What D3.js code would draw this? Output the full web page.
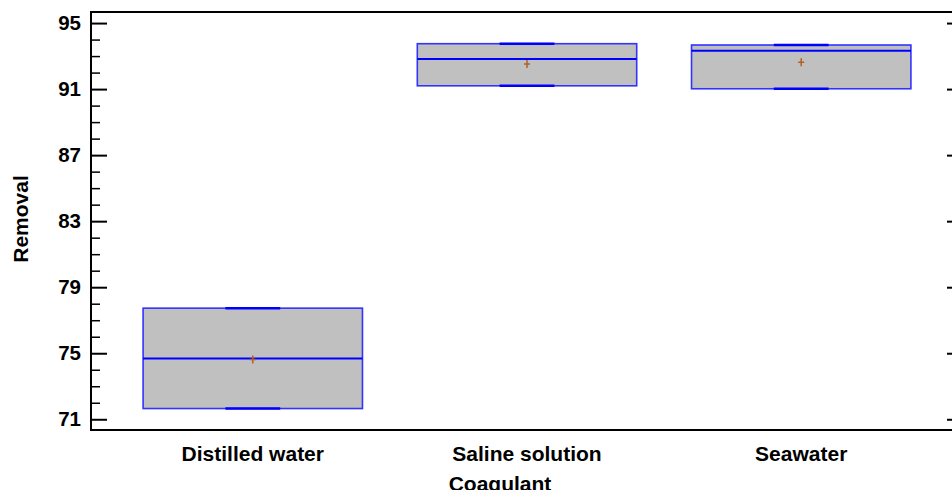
<!DOCTYPE html>
<html>
<head>
<meta charset="utf-8">
<script src="https://cdn.jsdelivr.net/npm/d3@7"></script>
<style>
  body { margin: 0; background: #fff; }
  text { font-family: "Liberation Sans", Arial, sans-serif; font-weight: bold; }
</style>
</head>
<body>
<div id="containerboxplot"></div>
<script>

// values
var categories = ["Distilled water", "Saline solution", "Seawater"];
var minvals = [71.65, 91.20, 91.02];
var q1vals = [71.65, 91.20, 91.02];
var medians = [74.68, 92.82, 93.32];
var q3vals = [77.73, 93.75, 93.67];
var maxvals = [77.73, 93.75, 93.67];
var means = [74.62, 92.52, 92.63];
var majorticks = [71, 75, 79, 83, 87, 91, 95];
var minorticks = d3.range(71, 96).filter(function(d) { return majorticks.indexOf(d) < 0; });

var width = 952, height = 490;
var margin = {top: 12, right: -11, bottom: 60, left: 91};
var plotw = width - margin.left - margin.right;
var ploth = height - margin.top - margin.bottom;

var svg = d3.select("#containerboxplot").append("svg")
    .attr("width", width)
    .attr("height", height);

var g = svg.append("g")
    .attr("transform", "translate(" + margin.left + "," + margin.top + ")");

var x = d3.scaleBand()
    .domain(categories)
    .range([0, plotw])
    .paddingInner(0.2)
    .paddingOuter(0.19);

var y = d3.scaleLinear()
    .domain([70.35, 95.67])
    .range([ploth, 0]);

var boxes = categories.map(function(c, i) {
  return {cat: c, min: minvals[i], q1: q1vals[i], med: medians[i], q3: q3vals[i], max: maxvals[i], mean: means[i]};
});

// boxes
var bx = g.selectAll(".box")
    .data(boxes).enter()
    .append("g")
    .attr("class", "box");

bx.append("rect")
    .attr("x", function(d) { return x(d.cat); })
    .attr("y", function(d) { return y(d.q3); })
    .attr("width", x.bandwidth())
    .attr("height", function(d) { return y(d.q1) - y(d.q3); })
    .attr("fill", "#c0c0c0")
    .attr("stroke", "#3333ff")
    .attr("stroke-width", 1.6);

// whiskers + caps (whiskers have zero length here)
bx.append("line")
    .attr("x1", function(d) { return x(d.cat) + x.bandwidth() / 2; })
    .attr("x2", function(d) { return x(d.cat) + x.bandwidth() / 2; })
    .attr("y1", function(d) { return y(d.max); })
    .attr("y2", function(d) { return y(d.q3); })
    .attr("stroke", "#0000ff")
    .attr("stroke-width", 1.5);
bx.append("line")
    .attr("x1", function(d) { return x(d.cat) + x.bandwidth() / 2; })
    .attr("x2", function(d) { return x(d.cat) + x.bandwidth() / 2; })
    .attr("y1", function(d) { return y(d.min); })
    .attr("y2", function(d) { return y(d.q1); })
    .attr("stroke", "#0000ff")
    .attr("stroke-width", 1.5);
["max", "min"].forEach(function(k) {
  bx.append("line")
      .attr("x1", function(d) { return x(d.cat) + x.bandwidth() * 0.375; })
      .attr("x2", function(d) { return x(d.cat) + x.bandwidth() * 0.625; })
      .attr("y1", function(d) { return y(d[k]); })
      .attr("y2", function(d) { return y(d[k]); })
      .attr("stroke", "#0000ff")
      .attr("stroke-width", 2.5);
});

// median
bx.append("line")
    .attr("x1", function(d) { return x(d.cat); })
    .attr("x2", function(d) { return x(d.cat) + x.bandwidth(); })
    .attr("y1", function(d) { return y(d.med); })
    .attr("y2", function(d) { return y(d.med); })
    .attr("stroke", "#0000ff")
    .attr("stroke-width", 2);

// mean marker
var pl = 3;
bx.append("path")
    .attr("d", function(d) {
      var cx = x(d.cat) + x.bandwidth() / 2, cy = y(d.mean);
      return "M" + (cx - pl) + "," + cy + "H" + (cx + pl) + "M" + cx + "," + (cy - pl - 1) + "V" + (cy + pl + 1);
    })
    .attr("stroke", "#b0602a")
    .attr("stroke-width", 1.5)
    .attr("fill", "none");

// left axis: major ticks inside, labels outside
g.append("g")
    .attr("class", "yaxis")
    .call(d3.axisLeft(y).tickValues(majorticks).tickSize(-16).tickPadding(10).tickFormat(d3.format("d")))
    .call(function(s) { s.select(".domain").remove(); })
    .call(function(s) {
      s.selectAll("line").attr("stroke", "#000").attr("stroke-width", 2);
      s.selectAll("text").attr("fill", "#000").style("font-size", "20.5px").attr("dy", "0.3em");
    });

g.append("g")
    .attr("class", "yminor")
    .call(d3.axisLeft(y).tickValues(minorticks).tickSize(-9).tickFormat(""))
    .call(function(s) { s.select(".domain").remove(); })
    .call(function(s) { s.selectAll("line").attr("stroke", "#000").attr("stroke-width", 1.5); });

// right axis, major ticks only
g.append("g")
    .attr("transform", "translate(" + plotw + ",0)")
    .call(d3.axisRight(y).tickValues(majorticks).tickSize(-16).tickFormat(""))
    .call(function(s) { s.select(".domain").remove(); })
    .call(function(s) { s.selectAll("line").attr("stroke", "#000").attr("stroke-width", 2); });

// frame
g.append("rect")
    .attr("x", 0)
    .attr("y", 0)
    .attr("width", plotw)
    .attr("height", ploth)
    .attr("fill", "none")
    .attr("stroke", "#000")
    .attr("stroke-width", 2);

// category labels
g.append("g")
    .attr("class", "xaxis")
    .attr("transform", "translate(0," + ploth + ")")
    .call(d3.axisBottom(x).tickSize(0).tickPadding(0))
    .call(function(s) { s.select(".domain").remove(); })
    .call(function(s) {
      s.selectAll("text").attr("fill", "#000").style("font-size", "21px").attr("y", 31).attr("dy", null);
    });

// axis titles
svg.append("text")
    .attr("x", margin.left + plotw / 2 - 27)
    .attr("y", 490.5)
    .attr("text-anchor", "middle")
    .style("font-size", "21px")
    .text("Coagulant");

svg.append("text")
    .attr("transform", "translate(27.5," + (margin.top + ploth / 2 - 2) + ") rotate(-90)")
    .attr("text-anchor", "middle")
    .style("font-size", "21px")
    .text("Removal");

</script>
</body>
</html>
